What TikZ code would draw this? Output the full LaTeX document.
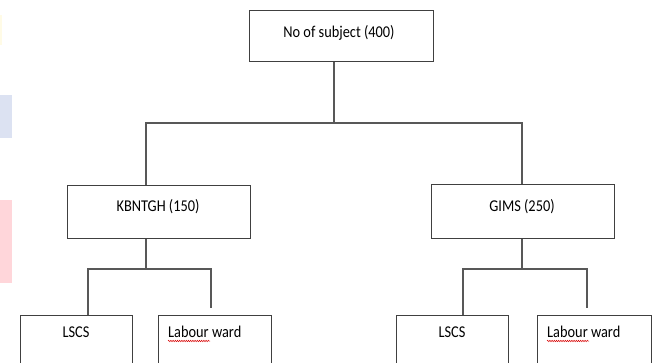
\documentclass[tikz,border=0pt]{standalone}
\usepackage{fontspec}
\setmainfont{Carlito}
\newfontfamily\narrowcal[FakeStretch=0.87]{Carlito}
\usetikzlibrary{decorations.pathmorphing}
\definecolor{linegray}{HTML}{585858}
\definecolor{boxgray}{HTML}{404040}
\definecolor{smudgeblue}{HTML}{DCE2F2}
\definecolor{smudgepink}{HTML}{FFD6DA}
\definecolor{smudgeyellow}{HTML}{FFFBE6}
\begin{document}
\begin{tikzpicture}[x=1pt,y=-1pt,
  box/.style={draw=boxgray,line width=1.15pt,rectangle,inner sep=0pt,anchor=north west},
  conn/.style={draw=linegray,line width=1.2pt},
  lbl/.style={font=\narrowcal\fontsize{16.5}{19}\selectfont,text=black,inner sep=0pt},
  squiggle/.style={draw=red!85!black,line width=0.5pt,decorate,decoration={snake,amplitude=0.7pt,segment length=2.2pt}}]
\useasboundingbox (0,0) rectangle (652,363);
\clip (0,0) rectangle (652,363);
% faint edge smudges
\fill[smudgeyellow] (0,15) rectangle (2,45);
\fill[smudgeblue] (0,95) rectangle (12,138);
\fill[smudgepink] (0,200) rectangle (12,283);
% boxes
\node[box,minimum width=184pt,minimum height=51pt] (top) at (249,10) {};
\node[lbl] (toptxt) at (339,33) {No of subject (400)};
\node[box,minimum width=183pt,minimum height=53pt] (kb) at (67,185) {};
\node[lbl] (kbtxt) at (158,207) {KBNTGH (150)};
\node[box,minimum width=183pt,minimum height=54pt] (gi) at (431,184) {};
\node[lbl] (gitxt) at (522,207) {GIMS (250)};
\node[box,minimum width=112pt,minimum height=70pt] (l1) at (20,315) {};
\node[lbl] (l1txt) at (76,332) {LSCS};
\node[box,minimum width=113pt,minimum height=70pt] (l2) at (158,315) {};
\node[lbl,anchor=west] (l2txt) at (168,332) {Labour ward};
\node[box,minimum width=112pt,minimum height=70pt] (r1) at (396,315) {};
\node[lbl] (r1txt) at (452,332) {LSCS};
\node[box,minimum width=114pt,minimum height=70pt] (r2) at (537,315) {};
\node[lbl,anchor=west] (r2txt) at (547,332) {Labour ward};
% spell-check squiggles
\draw[squiggle] (168,341) -- (210,341);
\draw[squiggle] (547,341) -- (589,341);
% junction coordinates
\coordinate (j0) at (334,123);
\coordinate (jl) at (146,123);
\coordinate (jr) at (522,123);
\coordinate (kj) at (146,269);
\coordinate (kjl) at (88,269);
\coordinate (kjr) at (211,269);
\coordinate (kjre) at (211,308);
\coordinate (gj) at (522,269);
\coordinate (gjl) at (463,269);
\coordinate (gjr) at (587,269);
\coordinate (gjre) at (587,308);
% connectors
\draw[conn] (top.south -| j0) -- (j0);
\draw[conn] (kb.north -| jl) -- (jl) -- (jr) -- (gi.north -| jr);
\draw[conn] (kb.south -| kj) -- (kj);
\draw[conn] (l1.north -| kjl) -- (kjl) -- (kjr) -- (kjre);
\draw[conn] (gi.south -| gj) -- (gj);
\draw[conn] (r1.north -| gjl) -- (gjl) -- (gjr) -- (gjre);
\end{tikzpicture}
\end{document}
